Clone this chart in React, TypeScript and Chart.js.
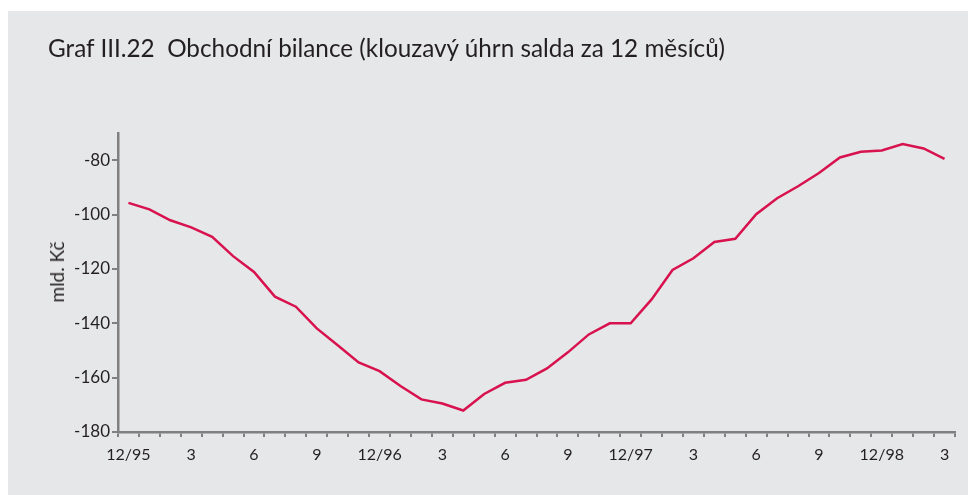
import React, { useEffect, useRef } from "react";
import { Chart, registerables } from "chart.js";

Chart.register(...registerables);

const months: string[] = [
  "12/95",
  "1/96", "2/96", "3/96", "4/96", "5/96", "6/96", "7/96", "8/96", "9/96", "10/96", "11/96", "12/96",
  "1/97", "2/97", "3/97", "4/97", "5/97", "6/97", "7/97", "8/97", "9/97", "10/97", "11/97", "12/97",
  "1/98", "2/98", "3/98", "4/98", "5/98", "6/98", "7/98", "8/98", "9/98", "10/98", "11/98", "12/98",
  "1/99", "2/99", "3/99",
];

const balance: number[] = [
  -95.7, -98.1, -102.1, -104.7, -108.2, -115.3, -121.1, -130.2, -133.9, -141.9,
  -148.1, -154.4, -157.6, -163.1, -168.0, -169.5, -172.1, -166.0, -161.9, -160.8,
  -156.6, -150.7, -144.1, -140.0, -140.0, -131.2, -120.4, -116.1, -110.1, -108.9,
  -99.9, -94.0, -89.6, -84.7, -79.0, -76.9, -76.4, -74.1, -75.7, -79.5,
];

const yTicks: number[] = [-180, -160, -140, -120, -100, -80];

const titleText = "Graf III.22  Obchodní bilance (klouzavý úhrn salda za 12 měsíců)";
const yTitle = "mld. Kč";

const FONT = "Lato, 'Open Sans', sans-serif";
const AXIS = "#808080";
const TEXT = "#231f20";

function xLabel(m: string): string {
  const [mm] = m.split("/");
  const n = Number(mm);
  if (n === 12) return m;
  if (n === 3 || n === 6 || n === 9) return String(n);
  return "";
}

export default function App() {
  const ref = useRef<HTMLCanvasElement | null>(null);

  useEffect(() => {
    if (!ref.current) return;
    const chart = new Chart(ref.current, {
      type: "line",
      data: {
        labels: months,
        datasets: [
          {
            data: balance,
            borderColor: "#d8124f",
            borderWidth: 2.5,
            pointRadius: 0,
            tension: 0,
            fill: false,
          },
        ],
      },
      options: {
        animation: false,
        responsive: false,
        maintainAspectRatio: false,
        layout: { padding: { top: 122, right: 21, bottom: 0, left: 0 } },
        plugins: {
          legend: { display: false },
          title: { display: false },
          tooltip: { enabled: false },
        },
        scales: {
          x: {
            type: "category",
            offset: true,
            afterFit: (s: any) => {
              s.height = 63;
            },
            grid: {
              offset: true,
              drawOnChartArea: false,
              drawTicks: true,
              tickLength: 5,
              color: AXIS,
              lineWidth: 2,
            },
            border: { display: true, color: AXIS, width: 2.5 },
            ticks: {
              autoSkip: false,
              maxRotation: 0,
              minRotation: 0,
              padding: 8,
              color: TEXT,
              font: { family: FONT, size: 16 },
              callback: (_v: any, i: number) => xLabel(months[i]),
            },
          },
          y: {
            type: "linear",
            min: -180,
            max: -70,
            afterFit: (s: any) => {
              s.width = 110;
            },
            afterBuildTicks: (s: any) => {
              s.ticks = yTicks.map((v) => ({ value: v }));
            },
            grid: {
              drawOnChartArea: false,
              drawTicks: true,
              tickLength: 6,
              color: AXIS,
              lineWidth: 2,
            },
            border: { display: true, color: AXIS, width: 2.5 },
            ticks: {
              padding: 2,
              color: TEXT,
              font: { family: FONT, size: 17 },
            },
          },
        },
      },
    });
    return () => chart.destroy();
  }, []);

  return (
    <div style={{ paddingTop: 3 }}>
      <div
        style={{
          position: "relative",
          width: 968,
          height: 484,
          background: "#e6e7e8",
          fontFamily: FONT,
          color: TEXT,
        }}
      >
        <div
          style={{
            position: "absolute",
            left: 40,
            top: 23,
            fontSize: 24.3,
            fontWeight: 400,
            lineHeight: "28px",
            whiteSpace: "pre",
          }}
        >
          {titleText}
        </div>
        <div
          style={{
            position: "absolute",
            left: 49,
            top: 261,
            fontSize: 19,
            fontWeight: 400,
            lineHeight: "22px",
            whiteSpace: "nowrap",
            transform: "translate(-50%, -50%) rotate(-90deg)",
          }}
        >
          {yTitle}
        </div>
        <canvas ref={ref} width={968} height={484} style={{ display: "block" }} />
      </div>
    </div>
  );
}
